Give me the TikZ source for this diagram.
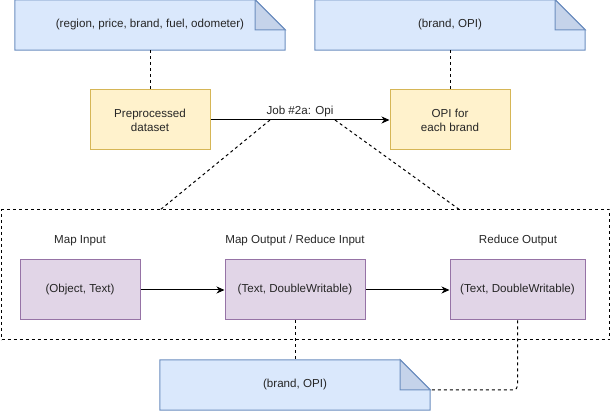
\documentclass[tikz,border=0pt]{standalone}
\usepackage{fontspec}
\setmainfont{Liberation Sans}
\usetikzlibrary{arrows.meta,backgrounds}
\definecolor{notefill}{HTML}{DAE8FC}
\definecolor{notedraw}{HTML}{6C8EBF}
\definecolor{notefold}{HTML}{C5D3EA}
\definecolor{dsfill}{HTML}{FFF2CC}
\definecolor{dsdraw}{HTML}{D6B656}
\definecolor{kvfill}{HTML}{E1D5E7}
\definecolor{kvdraw}{HTML}{9673A6}
\definecolor{txt}{HTML}{262626}
\tikzset{
  base/.style={font=\fontsize{11.6}{14}\selectfont, text=txt, align=center, inner sep=0pt},
  notebox/.style={base, minimum width=270pt, minimum height=50pt},
  databox/.style={base, draw=dsdraw, fill=dsfill, line width=1pt, minimum width=120pt, minimum height=60pt},
  kvbox/.style={base, draw=kvdraw, fill=kvfill, line width=1pt, minimum height=60pt},
  caption/.style={base},
  link/.style={line width=1pt, dash pattern=on 3pt off 3pt},
  flow/.style={line width=1pt, -{Stealth[length=8pt,width=7pt,inset=2.5pt]}},
}
% folded-corner note outline drawn behind a named node
\newcommand\notedraw[1]{%
  \filldraw[notedraw, fill=notefill, line width=1pt, line join=miter]
    (#1.south west) -- (#1.north west) -- ([xshift=-30pt]#1.north east)
    -- ([yshift=-30pt]#1.north east) -- (#1.south east) -- cycle;
  \filldraw[notedraw, fill=notefold, line width=1pt, line join=miter]
    ([xshift=-30pt]#1.north east) -- ([xshift=-30pt,yshift=-30pt]#1.north east)
    -- ([yshift=-30pt]#1.north east) -- cycle;}
\begin{document}
\begin{tikzpicture}[x=1pt, y=-1pt]
\useasboundingbox (0,0) rectangle (611,411);

% data-flow notes
\node[notebox] (n1) at (150,25) {(region, price, brand, fuel, odometer)};
\node[notebox] (n2) at (450,25) {(brand, OPI)};
\node[notebox] (n3) at (295,385) {(brand, OPI)};
\begin{pgfonlayer}{background}
  \notedraw{n1}
  \notedraw{n2}
  \notedraw{n3}
\end{pgfonlayer}

% job level
\node[databox] (ds) at (150,120) {Preprocessed\\dataset};
\node[databox] (opi) at (450,120) {OPI for\\each brand};
\draw[flow] (ds) -- node[caption, anchor=south, above=3pt] (job) {Job \#2a: Opi} (opi);
\coordinate (jl) at (270,120);
\coordinate (jr) at (335,120);

% map/reduce detail
\node[draw, link, minimum width=608pt, minimum height=130pt, inner sep=0pt] (grp) at (305.5,275) {};
\coordinate (gl) at (160,210);
\coordinate (gr) at (460,210);

\node[caption] (c1) at (80,241) {Map Input};
\node[caption] (c2) at (295,241) {Map Output / Reduce Input};
\node[caption] (c3) at (518,241) {Reduce Output};

\node[kvbox, minimum width=120pt] (p1) at (80,290) {(Object, Text)};
\node[kvbox, minimum width=140pt] (p2) at (295,290) {(Text, DoubleWritable)};
\node[kvbox, minimum width=135pt] (p3) at (517.5,290) {(Text, DoubleWritable)};

\draw[flow] (p1) -- (p2);
\draw[flow] (p2) -- (p3);

% dashed associations
\draw[link] (n1.south) -- (ds.north);
\draw[link] (n2.south) -- (opi.north);
\draw[link] (jl) -- (gl);
\draw[link] (jr) -- (gr);
\draw[link] (p2.south) -- (n3.north);
\coordinate (n3f) at ([yshift=-30pt]n3.north east);
\draw[link, rounded corners=4pt] (p3.south) |- (n3f);
\end{tikzpicture}
\end{document}
